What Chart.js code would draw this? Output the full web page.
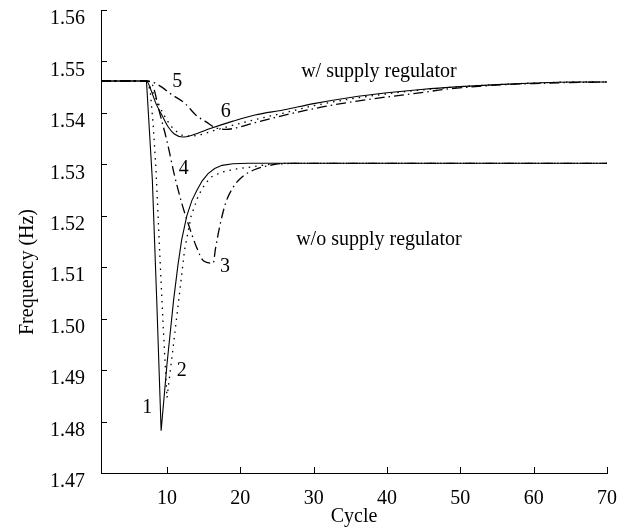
<!DOCTYPE html>
<html>
<head>
<meta charset="utf-8">
<script src="https://cdn.jsdelivr.net/npm/chart.js@4/dist/chart.umd.min.js"></script>
<style>
  html, body { margin: 0; padding: 0; background: #fff; }
  #wrap { width: 629px; height: 529px; }
</style>
</head>
<body>
<div id="wrap"><canvas id="freqChart"></canvas></div>
<script>
// tick values
const xTicks = [10, 20, 30, 40, 50, 60, 70];
const yTicks = [1.47, 1.48, 1.49, 1.50, 1.51, 1.52, 1.53, 1.54, 1.55, 1.56];

// w/o supply regulator
const cycle1 = [1, 7.2, 8.0, 8.6, 9.2, 10.0, 10.9, 11.5, 12.0, 12.7, 13.4, 14.1, 14.8, 15.6, 16.5, 17.5, 19, 21, 70];
const freq1 = [1.5462, 1.5462, 1.527, 1.5036, 1.4782, 1.4912, 1.5036, 1.5105, 1.5153, 1.5200, 1.5230, 1.5250, 1.5268, 1.5282, 1.5292, 1.5298, 1.5301, 1.5302, 1.5302];

const cycle2 = [1, 7.2, 7.7, 8.1, 8.5, 9.0, 9.5, 10.0, 10.8, 11.6, 12.4, 13.3, 14.3, 15.2, 16.1, 17.5, 19.5, 21.5, 24, 27, 70];
const freq2 = [1.5462, 1.5462, 1.5445, 1.538, 1.529, 1.513, 1.498, 1.4846, 1.494, 1.5036, 1.5134, 1.5200, 1.5240, 1.5262, 1.5276, 1.5285, 1.5291, 1.5295, 1.5300, 1.5302, 1.5302];

const cycle3 = [1, 7.2, 8.0, 9.0, 10.0, 11.0, 12.0, 13.0, 14.0, 15.0, 16.3, 16.6, 17.2, 18.0, 19.0, 20.2, 22, 24, 26, 70];
const freq3 = [1.5462, 1.5462, 1.5455, 1.540, 1.5345, 1.528, 1.5225, 1.518, 1.514, 1.5112, 1.5108, 1.5135, 1.518, 1.5225, 1.5255, 1.5275, 1.529, 1.5298, 1.5302, 1.5302];

// w/ supply regulator
const cycle4 = [1, 7.2, 7.8, 8.5, 9.3, 10.2, 11.0, 12.2, 13.5, 16, 19, 22, 26, 30, 35, 40, 45, 50, 55, 60, 65, 70];
const freq4 = [1.5462, 1.5462, 1.5445, 1.5418, 1.5396, 1.5372, 1.5359, 1.5353, 1.5357, 1.5370, 1.5384, 1.5396, 1.5406, 1.5418, 1.5430, 1.5439, 1.5446, 1.5451, 1.5455, 1.5458, 1.5460, 1.5460];

const cycle5 = [1, 7.2, 8.0, 9.3, 10.5, 12.4, 14.0, 15.4, 16.5, 18.0, 19.5, 22, 25, 28, 31, 35, 40, 45, 48, 52, 56, 60, 65, 70];
const freq5 = [1.5462, 1.5462, 1.5460, 1.5450, 1.5437, 1.5419, 1.5395, 1.5382, 1.5372, 1.5368, 1.5371, 1.5381, 1.5392, 1.5402, 1.5411, 1.5421, 1.5431, 1.5440, 1.5446, 1.5451, 1.5455, 1.5457, 1.5459, 1.5460];

const cycle6 = [1, 7.2, 7.7, 8.6, 9.5, 10.7, 11.5, 12.5, 14.0, 16.5, 19, 22, 26, 30, 35, 40, 45, 50, 55, 60, 65, 70];
const freq6 = [1.5462, 1.5462, 1.5450, 1.5425, 1.5398, 1.5372, 1.5362, 1.5355, 1.5356, 1.5366, 1.5376, 1.5387, 1.5400, 1.5414, 1.5427, 1.5437, 1.5445, 1.5451, 1.5455, 1.5458, 1.5460, 1.5460];

// curve labels and captions (text, cycle, frequency)
const noteText = ["1", "2", "3", "4", "5", "6", "w/ supply regulator", "w/o supply regulator"];
const noteX = [7.3, 12.0, 17.9, 12.3, 11.4, 18.0, 38.9, 38.9];
const noteY = [1.4826, 1.4898, 1.5100, 1.5291, 1.5460, 1.5402, 1.5480, 1.5153];

const serif = "'Liberation Serif', 'Times New Roman', serif";
const toPoints = (xs, ys) => xs.map((x, i) => ({ x: x, y: ys[i] }));

const dotted = [1.5, 5];
const dashDot = [10, 4, 1.5, 4];

function line(xs, ys, dash, smooth) {
  return {
    data: toPoints(xs, ys),
    borderColor: "#000",
    borderWidth: dash.length ? 1.3 : 1.1,
    borderDash: dash,
    pointRadius: 0,
    fill: false,
    tension: 0,
    cubicInterpolationMode: smooth ? "monotone" : "default"
  };
}

const inwardTicks = {
  id: "inwardTicks",
  afterDraw(chart) {
    const { ctx, scales: { x, y } } = chart;
    ctx.save();
    ctx.strokeStyle = "#000";
    ctx.lineWidth = 1;
    ctx.beginPath();
    yTicks.forEach(v => {
      const py = Math.round(y.getPixelForValue(v)) + 0.5;
      ctx.moveTo(x.left, py);
      ctx.lineTo(x.left + 6, py);
    });
    xTicks.forEach(v => {
      const px = Math.round(x.getPixelForValue(v)) + 0.5;
      ctx.moveTo(px, y.bottom);
      ctx.lineTo(px, y.bottom - 6);
    });
    ctx.stroke();

    ctx.fillStyle = "#000";
    ctx.font = "20px " + serif;
    ctx.textAlign = "center";
    ctx.textBaseline = "middle";
    noteText.forEach((t, i) => {
      ctx.fillText(t, x.getPixelForValue(noteX[i]), y.getPixelForValue(noteY[i]));
    });

    ctx.translate(28, 272);
    ctx.rotate(-Math.PI / 2);
    ctx.fillText("Frequency (Hz)", 0, 0);
    ctx.restore();
  }
};

new Chart(document.getElementById("freqChart"), {
  type: "line",
  data: {
    datasets: [
      line(cycle1, freq1, [], false),
      line(cycle2, freq2, dotted, false),
      line(cycle3, freq3, dashDot, true),
      line(cycle4, freq4, [], true),
      line(cycle5, freq5, dashDot, true),
      line(cycle6, freq6, dotted, true)
    ]
  },
  options: {
    responsive: true,
    maintainAspectRatio: false,
    animation: false,
    layout: { padding: { top: 10, right: 22, left: 0, bottom: 0 } },
    plugins: { legend: { display: false }, tooltip: { enabled: false } },
    scales: {
      x: {
        type: "linear",
        min: 1,
        max: 70,
        afterBuildTicks: s => { s.ticks = xTicks.map(v => ({ value: v })); },
        afterFit: s => { s.height = 56; s.paddingLeft = 0; s.paddingRight = 0; },
        grid: { display: false },
        border: { display: true, color: "#000", width: 1 },
        ticks: { color: "#000", font: { family: serif, size: 20 }, padding: 6, maxRotation: 0 },
        title: { display: true, text: "Cycle", color: "#000", font: { family: serif, size: 20 }, padding: { top: 0, bottom: 0 } }
      },
      y: {
        type: "linear",
        min: 1.47,
        max: 1.56,
        afterBuildTicks: s => { s.ticks = yTicks.map(v => ({ value: v })); },
        afterFit: s => { s.width = 101; s.paddingTop = 0; s.paddingBottom = 0; },
        grid: { display: false },
        border: { display: true, color: "#000", width: 1 },
        ticks: {
          color: "#000",
          font: { family: serif, size: 20 },
          padding: 8,
          labelOffset: 9,
          callback: v => Number(v).toFixed(2)
        }
      }
    }
  },
  plugins: [inwardTicks]
});
</script>
</body>
</html>
